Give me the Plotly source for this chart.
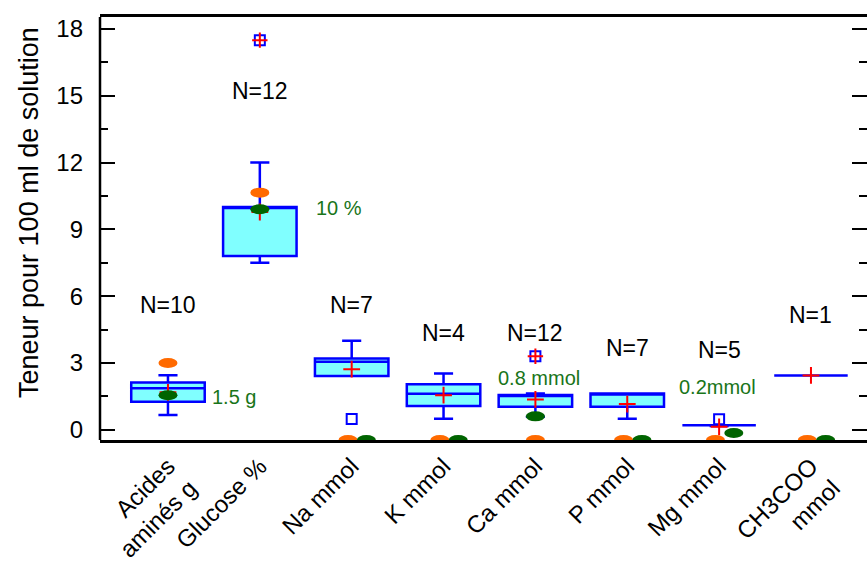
import plotly.graph_objects as go

# ---------------- data ----------------
categories = ["Acides<br>aminés g", "Glucose %", "Na mmol", "K mmol",
              "Ca mmol", "P mmol", "Mg mmol", "CH3COO<br>mmol"]
n_counts = [10, 12, 7, 4, 12, 7, 5, 1]
q1 = [1.26, 7.8, 2.41, 1.06, 1.03, 1.03, 0.2, 2.44]
median = [1.86, 10.0, 3.05, 1.62, 1.56, 1.63, 0.2, 2.44]
q3 = [2.12, 10.0, 3.2, 2.04, 1.56, 1.63, 0.2, 2.44]
lowerfence = [0.66, 7.5, 2.41, 0.49, 0.58, 0.49, 0.17, 2.44]
upperfence = [2.45, 12.0, 4.0, 2.53, 1.63, 1.63, 0.2, 2.44]
means = [1.68, 9.78, 2.72, 1.55, 1.36, 1.15, 0.13, 2.44]

outlier_cat = [1, 2, 4, 6]
outlier_val = [17.5, 0.48, 3.3, 0.47]
outlier_mark_cat = [1, 4]        # outliers also marked with a red cross
outlier_mark_val = [17.5, 3.3]

# reference values (None = not given -> drawn on the axis floor)
orange_ref = [3.0, 10.65, None, None, None, None, None, None]
green_ref = [1.55, 9.9, None, None, 0.6, None, -0.15, None]

# N label heights (data units)
n_label_y = [5.59, 15.23, 5.59, 4.34, 4.34, 3.66, 3.57, 5.14]

# green reference labels: (x position, y position, text)
green_label_x = [0.72, 1.86, 4.04, 5.98]
green_label_y = [1.47, 9.94, 2.32, 1.92]
green_label_text = ["1.5 g", "10 %", "0.8 mmol", "0.2mmol"]

# ---------------- style ----------------
FONT = "Liberation Sans, Arial, sans-serif"
BLUE = "#0000FF"
FILL = "#80FFFF"
RED = "#FF0000"
ORANGE = "#FF6A00"
GREEN = "#006400"
GREEN_TXT = "#197519"
Y_MIN, Y_MAX = -0.462, 18.54
X_MIN, X_MAX = -0.74, 7.61

xs = list(range(len(categories)))

fig = go.Figure()

fig.add_trace(go.Box(
    x=xs, q1=q1, median=median, q3=q3,
    lowerfence=lowerfence, upperfence=upperfence,
    width=0.8, whiskerwidth=0.26,
    fillcolor=FILL, line=dict(color=BLUE, width=2.5),
    boxpoints=False, showlegend=False, hoverinfo="skip",
))

fig.add_trace(go.Scatter(
    x=[xs[i] for i in outlier_cat], y=outlier_val, mode="markers",
    marker=dict(symbol="square-open", size=10, color=BLUE,
                line=dict(color=BLUE, width=2)),
    showlegend=False,
))

fig.add_trace(go.Scatter(
    x=xs, y=means, mode="markers",
    marker=dict(symbol="cross-thin", size=12, color=RED,
                line=dict(color=RED, width=2)),
    showlegend=False,
))

fig.add_trace(go.Scatter(
    x=[xs[i] for i in outlier_mark_cat], y=outlier_mark_val, mode="markers",
    marker=dict(symbol="cross-thin", size=11, color=RED,
                line=dict(color=RED, width=2)),
    showlegend=False,
))

# reference dots as pixel-sized ellipses anchored at data positions
shapes = []
for i in xs:
    oy = orange_ref[i] if orange_ref[i] is not None else Y_MIN
    gy = green_ref[i] if green_ref[i] is not None else Y_MIN
    overlap = abs(oy - gy) < 0.5
    ox = i - 0.04 if overlap else i
    gx = i + 0.16 if overlap else i
    for (px, py, col) in [(ox, oy, ORANGE), (gx, gy, GREEN)]:
        shapes.append(dict(
            type="circle", layer="above",
            xref="x", yref="y",
            xsizemode="pixel", ysizemode="pixel",
            xanchor=px, yanchor=py,
            x0=-9.5, x1=9.5, y0=-5, y1=5,
            fillcolor=col, line=dict(width=0),
        ))

# left axis line
shapes.append(dict(type="line", xref="paper", yref="paper",
                   x0=0, x1=0, y0=0, y1=1,
                   line=dict(color="black", width=2.5), layer="above"))

annotations = []
for i in xs:
    annotations.append(dict(
        x=i, y=n_label_y[i], xref="x", yref="y",
        xanchor="center", yanchor="middle",
        text=f"N={n_counts[i]}", showarrow=False,
        font=dict(family=FONT, size=23, color="black"),
    ))
for gxv, gyv, t in zip(green_label_x, green_label_y, green_label_text):
    annotations.append(dict(
        x=gxv, y=gyv, xref="x", yref="y", text=t, showarrow=False,
        xanchor="center", yanchor="middle",
        font=dict(family=FONT, size=20, color=GREEN_TXT),
    ))
annotations.append(dict(
    x=(29 - 100) / 767, y=(440 - 213) / 423, xref="paper", yref="paper",
    xanchor="center", yanchor="middle",
    text="Teneur pour 100 ml de solution", textangle=-90, showarrow=False,
    font=dict(family=FONT, size=27, color="black"),
))

fig.update_layout(
    width=867, height=570, autosize=False,
    margin=dict(l=100, r=0, t=17, b=130),
    paper_bgcolor="white", plot_bgcolor="white",
    shapes=shapes, annotations=annotations,
    font=dict(family=FONT, size=22, color="black"),
    showlegend=False,
)

fig.update_xaxes(
    range=[X_MIN, X_MAX], tickmode="array", tickvals=xs, ticktext=categories,
    tickangle=-45, ticks="", showgrid=False, zeroline=False,
    showline=True, linecolor="black", linewidth=2.5, mirror=True,
    tickfont=dict(family=FONT, size=24, color="black"),
)

fig.update_yaxes(
    range=[Y_MIN, Y_MAX], tickmode="array", tickvals=[0, 3, 6, 9, 12, 15, 18],
    ticks="inside", ticklen=15, tickwidth=2, tickcolor="black",
    minor=dict(dtick=1.5, tick0=0, ticks="inside", ticklen=8,
               tickwidth=2, tickcolor="black"),
    showline=False, mirror="ticks", showgrid=False, zeroline=False,
    ticklabelstandoff=16,
    tickfont=dict(family=FONT, size=24, color="black"),
)

fig.write_html("out.html")
